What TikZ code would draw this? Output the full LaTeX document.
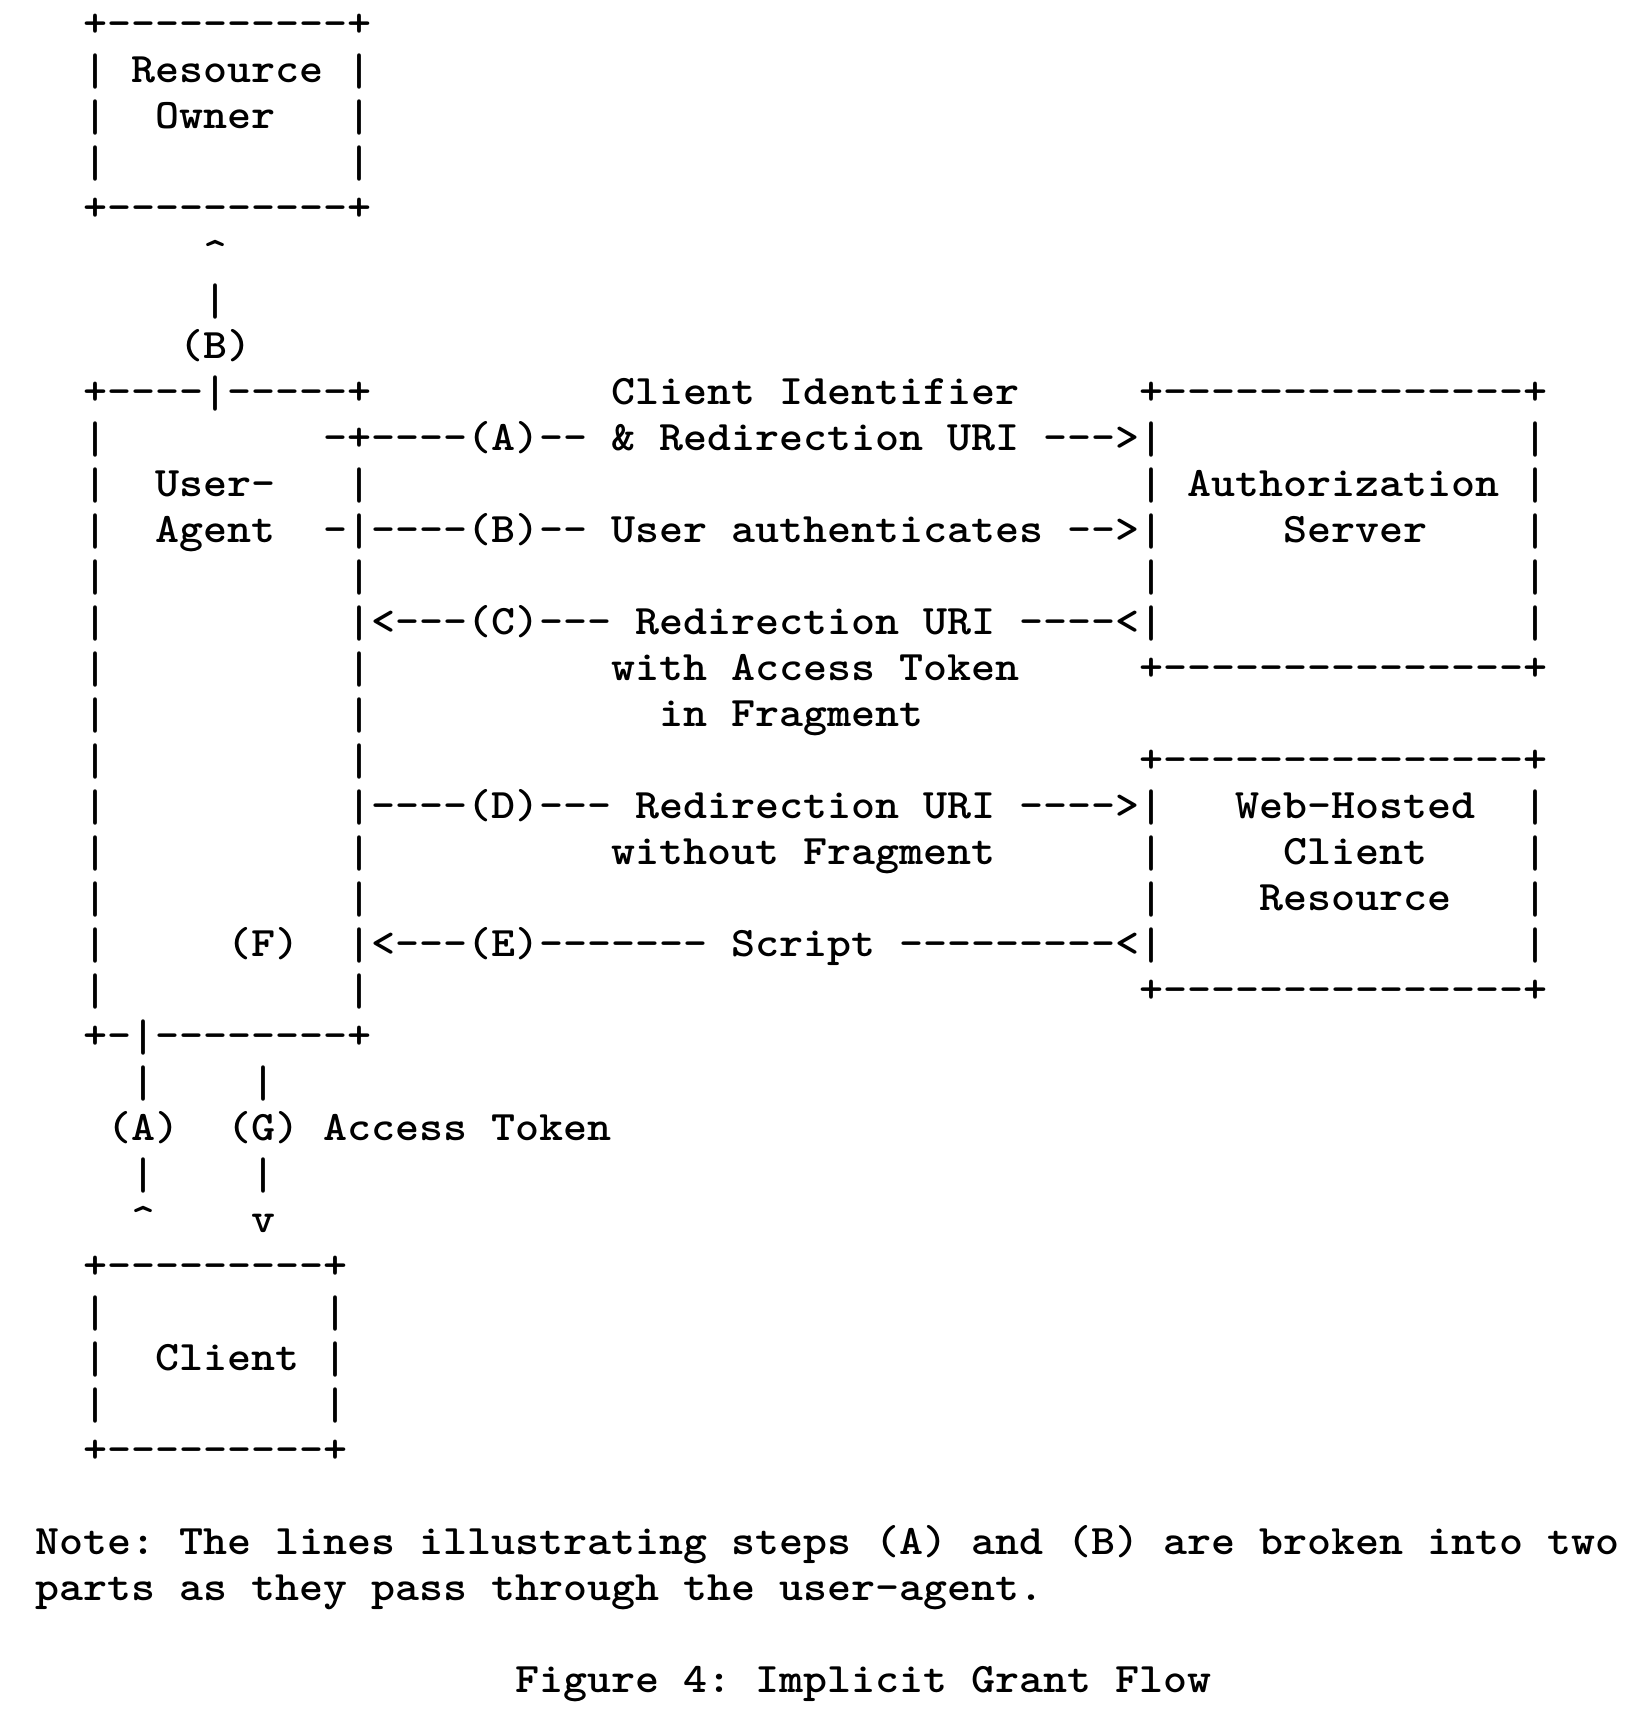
\documentclass[tikz,border=0pt]{standalone}
\usepackage{graphicx}
\usepackage{fontspec}
\newfontfamily\asciifont{lmmonolt10-bold.otf}[FakeStretch=1.0884, Ligatures=TeXOff]
% slightly taller bar, so that the walls come closer from line to line
\newcommand\vb{\raisebox{-1.2pt}{\scalebox{1}[1.09]{|}}}

\begin{document}
\begin{tikzpicture}[x=12pt, y=-23pt,
  ascii/.style={anchor=base west, inner sep=0pt,
    font={\asciifont\fontsize{21pt}{23pt}\selectfont\frenchspacing\spaceskip 12pt\relax}}]
\useasboundingbox (1.5417,-0.7978) rectangle (70.2083,36.5065);
% Resource owner
\node[ascii] (rotop) at (5,0) {+----------+};
\node[ascii] (roname) at (7,1) {Resource};
\node[ascii] (roname2) at (8,2) {Owner};
\foreach \r in {1,2,3} {
  \node[ascii] (roL\r) at (5,\r) {\vb};
  \node[ascii] (roR\r) at (16,\r) {\vb};
}
\node[ascii] (robot) at (5,4) {+----------+};
% Step (B) up to the owner
\node[ascii] (btip) at (10,5) {\textasciicircum};
\node[ascii] (bbar) at (10,6) {\vb};
\node[ascii] (blabel) at (9,7) {(B)};
% User-agent
\node[ascii] (uatop) at (5,8) {+----\vb-----+};
\node[ascii] (uaname) at (8,10) {User-};
\node[ascii] (uaname2) at (8,11) {Agent};
\node[ascii] (flabel) at (11,20) {(F)};
\foreach \r in {9,...,21}
  \node[ascii] (uaL\r) at (5,\r) {\vb};
\foreach \r in {10,12,14,15,16,18,19,21}
  \node[ascii] (uaR\r) at (16,\r) {\vb};
\node[ascii] (uabot) at (5,22) {+-\vb--------+};
% Messages
\node[ascii] (clientid) at (27,8) {Client Identifier};
\node[ascii] (stepa) at (15,9) {-+----(A)-- \& Redirection URI --->\vb};
\node[ascii] (stepb) at (15,11) {-\vb----(B)-- User authenticates -->\vb};
\node[ascii] (stepc) at (16,13) {\vb<---(C)--- Redirection URI ----<\vb};
\node[ascii] (stepc2) at (27,14) {with Access Token};
\node[ascii] (stepc3) at (29,15) {in Fragment};
\node[ascii] (stepd) at (16,17) {\vb----(D)--- Redirection URI ---->\vb};
\node[ascii] (stepd2) at (27,18) {without Fragment};
\node[ascii] (stepe) at (16,20) {\vb<---(E)------- Script ---------<\vb};
% Authorization server
\node[ascii] (astop) at (49,8) {+---------------+};
\node[ascii] (asname) at (51,10) {Authorization};
\node[ascii] (asname2) at (55,11) {Server};
\foreach \r in {10,12}
  \node[ascii] (asL\r) at (49,\r) {\vb};
\foreach \r in {9,...,13}
  \node[ascii] (asR\r) at (65,\r) {\vb};
\node[ascii] (asbot) at (49,14) {+---------------+};
% Web-hosted client resource
\node[ascii] (whtop) at (49,16) {+---------------+};
\node[ascii] (whname) at (53,17) {Web-Hosted};
\node[ascii] (whname2) at (55,18) {Client};
\node[ascii] (whname3) at (54,19) {Resource};
\foreach \r in {18,19}
  \node[ascii] (whL\r) at (49,\r) {\vb};
\foreach \r in {17,...,20}
  \node[ascii] (whR\r) at (65,\r) {\vb};
\node[ascii] (whbot) at (49,21) {+---------------+};
% Steps (A) and (G) to the client
\foreach \r in {23,25} {
  \node[ascii] (aBar\r) at (7,\r) {\vb};
  \node[ascii] (gBar\r) at (12,\r) {\vb};
}
\node[ascii] (alabel) at (6,24) {(A)};
\node[ascii] (glabel) at (11,24) {(G)};
\node[ascii] (token) at (15,24) {Access Token};
\node[ascii] (atip) at (7,26) {\textasciicircum};
\node[ascii] (gtip) at (12,26) {v};
% Client
\node[ascii] (cltop) at (5,27) {+---------+};
\node[ascii] (clname) at (8,29) {Client};
\foreach \r in {28,29,30} {
  \node[ascii] (clL\r) at (5,\r) {\vb};
  \node[ascii] (clR\r) at (15,\r) {\vb};
}
\node[ascii] (clbot) at (5,31) {+---------+};
% Note and caption
\node[ascii] (note) at (3,33) {Note: The lines illustrating steps (A) and (B) are broken into two};
\node[ascii] (note2) at (3,34) {parts as they pass through the user-agent.};
\node[ascii] (caption) at (23,36) {Figure 4: Implicit Grant Flow};
\end{tikzpicture}
\end{document}
